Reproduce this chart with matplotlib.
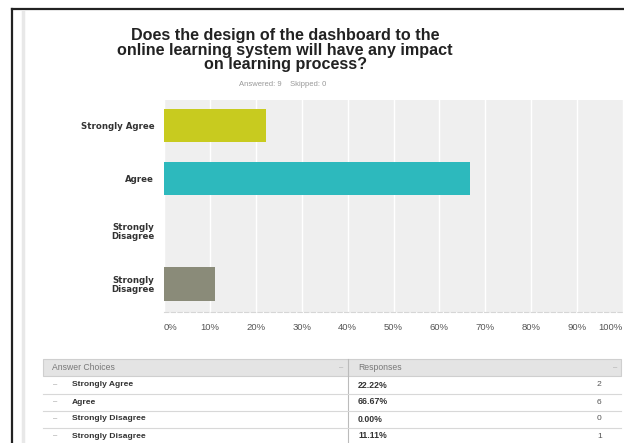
import matplotlib.pyplot as plt
from matplotlib.patches import Rectangle
from matplotlib.lines import Line2D
from matplotlib.ticker import FuncFormatter

plt.rcParams['font.family'] = ['Liberation Sans', 'DejaVu Sans']

# survey results
choices = ['Strongly Agree', 'Agree', 'Strongly\nDisagree', 'Strongly\nDisagree']
table_choices = ['Strongly Agree', 'Agree', 'Strongly Disagree', 'Strongly Disagree']
percents = [22.22, 66.67, 0.00, 11.11]
counts = [2, 6, 0, 1]
bar_colors = ['#c8cb1f', '#2db9bd', '#c8cb1f', '#8a8b79']
xticks = [0, 10, 20, 30, 40, 50, 60, 70, 80, 90, 100]

W, H = 624, 443
fig = plt.figure(figsize=(W / 100, H / 100), dpi=100)


def fx(px):
    return px / W


def fy(py):
    return 1 - py / H


# window frame
fig.add_artist(Line2D([fx(11.5), fx(11.5)], [fy(8.5), 0], color='#222222', lw=1.6))
fig.add_artist(Line2D([fx(11.5), 1], [fy(8.5), fy(8.5)], color='#222222', lw=1.6))
fig.add_artist(Line2D([fx(23), fx(23)], [fy(12), 0], color='#e8e8e8', lw=2.5))

fig.text(fx(285), fy(50), 'Does the design of the dashboard to the\nonline learning system will have any impact\non learning process?',
         ha='center', va='center', fontsize=11.6, fontweight='bold', color='#222222', linespacing=0.95)
fig.text(fx(283), fy(85), 'Answered: 9    Skipped: 0', ha='center', va='center', fontsize=5.5, color='#999999')

# bar chart
ax = fig.add_axes([fx(164), fy(312), fx(623) - fx(164), (312 - 100) / H])
ax.set_facecolor('#efefef')
ypos = list(range(len(choices)))
ax.barh(ypos, percents, height=0.63, color=bar_colors, zorder=3)
ax.set_xlim(0, 100)
ax.set_ylim(3.53, -0.49)
ax.set_xticks(xticks)
ax.xaxis.set_major_formatter(FuncFormatter(lambda v, p: f'{v:.0f}%'))
ax.set_yticks(ypos)
ax.set_yticklabels(choices, fontsize=6.2, fontweight='bold', color='#333333', linespacing=0.95,
                   family='DejaVu Sans')
ax.tick_params(axis='x', length=0, labelsize=6.8, labelcolor='#555555', pad=8)
ax.tick_params(axis='y', length=0, pad=7)
xlabels = ax.get_xticklabels()
xlabels[0].set_horizontalalignment('left')
xlabels[-1].set_horizontalalignment('right')
ax.grid(axis='x', color='white', lw=1.0, zorder=1)
for s in ['top', 'right', 'left']:
    ax.spines[s].set_visible(False)
ax.spines['bottom'].set_color('#d6d6d6')
ax.spines['bottom'].set_linestyle((0, (4, 2)))

# summary table
tl, tr, div = 43, 621, 348
fig.add_artist(Rectangle((fx(tl), fy(376)), fx(tr) - fx(tl), (376 - 359) / H,
                         facecolor='#e4e4e4', edgecolor='#cfcfcf', lw=0.8))
fig.add_artist(Line2D([fx(div), fx(div)], [fy(359), 0], color='#bbbbbb', lw=0.8))
fig.text(fx(52), fy(367.5), 'Answer Choices', fontsize=6.2, color='#777777', va='center')
fig.text(fx(358), fy(367.5), 'Responses', fontsize=6.2, color='#777777', va='center')
fig.text(fx(339), fy(367.5), '–', fontsize=5.5, color='#aaaaaa', va='center')
fig.text(fx(613), fy(367.5), '–', fontsize=5.5, color='#aaaaaa', va='center')

row_y = [385, 402, 419, 436]
for i, (name, pct, n) in enumerate(zip(table_choices, percents, counts)):
    y = row_y[i]
    fig.text(fx(53), fy(y), '–', fontsize=5.5, color='#999999', va='center')
    fig.text(fx(72), fy(y), name, fontsize=6.1, fontweight='bold', color='#333333', va='center')
    fig.text(fx(358), fy(y), f'{pct:.2f}%', fontsize=6.3, fontweight='bold', color='#333333', va='center')
    fig.text(fx(597), fy(y), str(n), fontsize=6.1, color='#555555', va='center')
    fig.add_artist(Line2D([fx(tl), fx(tr)], [fy(y + 8.5), fy(y + 8.5)], color='#d8d8d8', lw=0.8))

fig.savefig('out.png', dpi=100)
